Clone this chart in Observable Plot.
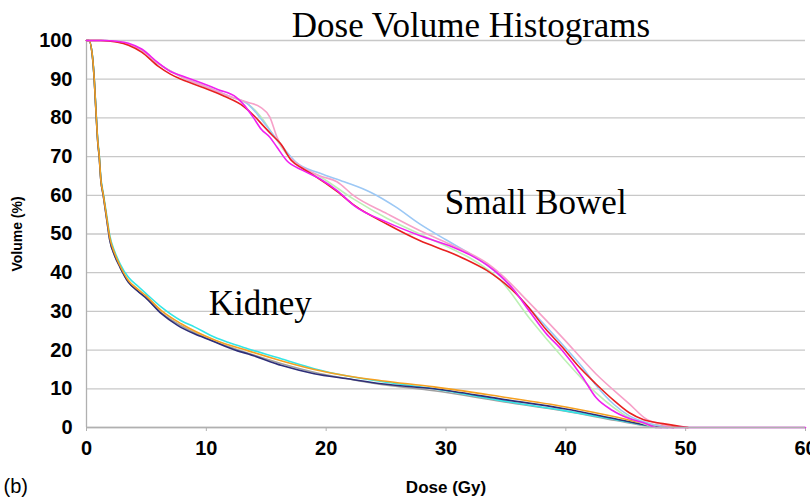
<!DOCTYPE html>
<html>
<head>
<meta charset="utf-8">
<script src="https://cdn.jsdelivr.net/npm/d3@7"></script>
<script src="https://cdn.jsdelivr.net/npm/@observablehq/plot@0.6"></script>
<style>
  html, body { margin: 0; padding: 0; background: #fff; overflow: hidden; }
  #chart svg { display: block; }
</style>
</head>
<body>
<div id="chart"></div>
<script>
// ---- Data: [dose (Gy), volume (%)] ----
const bowelGreen = [[0,100],[1.5,100],[3,99.4],[4.6,97.5],[6,94],[8,90.5],[10,88],[12,85.5],[13.5,83.5],[14.5,80.5],[15.5,76],[16.5,71.5],[17.5,68],[19.5,64.8],[22.3,59],[25.1,54],[27.8,50],[30.6,46],[32,43.8],[33.4,41],[34.5,38.2],[36.9,28.5],[39.7,18.2],[42.5,9],[45.3,2.5],[46.5,1],[47.5,0]];
const bowelBlue = [[0,100],[1.5,100],[3,99.4],[4.6,97.5],[6,94],[8,90.5],[10,88],[12,85.5],[13.5,83.5],[14.5,80],[15.5,76],[16.5,72],[17.5,68.5],[19.5,65.7],[21.5,63.5],[23.7,60.8],[25.8,57],[27.8,52.6],[30,48.5],[32,44.9],[33.5,41.8],[34.8,38.3],[36.9,31],[39.7,21.5],[41.4,15.5],[42.5,11],[44,6],[45.3,3],[47,1],[48.5,0]];
const bowelPink = [[0,100],[1.5,100],[3,99.4],[4.6,97.5],[6,94],[8,90.5],[10,88],[12,85.5],[13.5,84],[14.5,82.8],[15.3,80.2],[15.9,75],[16.7,70.7],[17.6,68.1],[19.5,65],[20.9,63.5],[22.3,59.9],[25.1,55.2],[27.8,50.9],[30.6,47],[32,45],[33.4,42.5],[34.5,39.8],[36.9,32.4],[39.7,23.3],[42.5,13.9],[45.3,6.1],[46.7,2.2],[48,0.8],[49,0]];
const bowelRed = [[0,100],[1.2,100],[2.5,99.6],[3.5,98.8],[4.6,97],[6,93.3],[7,91.3],[7.9,90],[9.6,88],[11.5,85.6],[13.1,83],[14,80.5],[14.8,77.8],[15.5,75.5],[16.2,73.3],[17.1,69],[18,67],[19,65.1],[20.9,61],[22.3,57.5],[25.1,52.5],[27.8,48.3],[30.6,44.9],[32,42.9],[33.4,40.6],[34.5,38.2],[35.5,35.6],[36.9,31],[38.3,25.5],[39.7,20.8],[41,16],[42.5,11.3],[44,7],[45.3,3.8],[46.5,2],[48.1,1],[49.5,0.3],[50.2,0]];
const bowelMagenta = [[0,100],[1.5,100],[2.5,99.8],[3.5,99.3],[4.6,97.8],[6,94.2],[7,92],[8,90.8],[9.6,89],[11,87.3],[12.5,85.3],[13.1,83.5],[13.9,80.2],[14.6,77],[15.3,75],[15.9,72.4],[16.7,69],[18,66.5],[19.5,64.2],[21,61],[22.3,57.4],[25.1,53],[27.8,49.6],[30.6,46.6],[32,44.6],[33.4,42],[34.5,39.3],[35.6,35.8],[36.9,30.3],[38.3,24.5],[39.7,19.9],[41.4,13],[42.5,7.8],[43.9,4.4],[45.3,2.3],[46.7,1],[47.5,0],[60,0]];

const kidneyGray = [[0,100],[0.2,100],[0.5,95.6],[0.65,89.6],[0.8,81],[0.95,73.3],[1.05,70.3],[1.2,63.8],[1.4,59.9],[1.7,53.5],[1.95,48.3],[2.35,44.4],[2.8,41.4],[3.5,37.6],[4.3,35.2],[4.9,33.6],[6.25,29.6],[7.9,26.3],[10.7,22.2],[13.5,19.2],[16.3,16.5],[19,14.3],[21.8,12.6],[24.6,11.1],[29,9.5],[34.5,6.8],[40,4.2],[44.2,1.8],[47,0.3],[48,0]];
const kidneyCyan = [[0,100],[0.2,100],[0.5,96],[0.65,90],[0.8,81.5],[0.95,74],[1.05,71],[1.2,64.5],[1.4,60.5],[1.7,54.5],[1.95,49.5],[2.35,45.5],[2.8,42.3],[3.5,38.8],[4.3,36.5],[4.9,34.8],[6.25,31.1],[7.9,27.6],[9,26],[10.7,23.3],[11.8,22],[13.5,20.3],[16.3,17.7],[19,15.2],[21.8,13.3],[24.6,11.9],[29,10],[34.5,7],[40,4.3],[44.2,2],[47,0.4],[48.5,0]];
const kidneyNavy = [[0,100],[0.2,100],[0.5,95.7],[0.65,89.7],[0.8,81],[0.95,73.3],[1.05,70.3],[1.2,63.8],[1.4,59.9],[1.7,53.5],[1.95,48.3],[2.35,44.4],[2.8,41.4],[3.5,37.5],[4.3,35.2],[4.9,33.7],[6.25,29.4],[7.6,26.4],[9,24.2],[10.4,22.5],[12.6,19.8],[13.5,19],[16.3,16],[19,13.9],[21.8,12.6],[24.6,11.3],[29,10],[34.5,7.4],[40,4.8],[44.2,2.2],[47,0.5],[49,0]];
const kidneyOrange = [[0,100],[0.2,100],[0.5,95.8],[0.65,89.8],[0.8,81.2],[0.95,73.6],[1.05,70.6],[1.2,64],[1.4,60.2],[1.7,54],[1.95,49],[2.35,45],[2.8,41.8],[3.5,38],[4.3,35.7],[4.9,34.2],[6.25,30.2],[7.9,26.8],[10.7,22.6],[13.5,19.8],[16.3,17.2],[19,15],[21.8,13.3],[24.6,12.1],[29,10.5],[34.5,8],[40,5.3],[44.2,2.7],[47,0.8],[49,0.2],[50.2,0]];

const series = [
  {data: kidneyGray, color: "#a0a0a0"},
  {data: kidneyCyan, color: "#33e6e6"},
  {data: kidneyNavy, color: "#2e2e78"},
  {data: kidneyOrange, color: "#f5a020"},
  {data: bowelGreen, color: "#bdf0b5"},
  {data: bowelBlue, color: "#9cc8f5"},
  {data: bowelPink, color: "#f7a0c8"},
  {data: bowelRed, color: "#e82020"},
  {data: bowelMagenta, color: "#f020f0"}
];

const xTicks = [0, 10, 20, 30, 40, 50, 60];
const yTicks = [0, 10, 20, 30, 40, 50, 60, 70, 80, 90, 100];

const sans = "'Liberation Sans', Arial, sans-serif";
const serif = "'Liberation Serif', 'Times New Roman', serif";

const chart = Plot.plot({
  width: 810,
  height: 500,
  marginTop: 40,
  marginBottom: 73,
  marginLeft: 86,
  marginRight: 5,
  x: {domain: [0, 60]},
  y: {domain: [0, 100]},
  style: {fontFamily: sans, background: "#fff"},
  marks: [
    Plot.gridY(yTicks, {stroke: "#c8c8c8", strokeOpacity: 1, strokeWidth: 1.3}),
    Plot.ruleX([0], {stroke: "#b0b0b0", strokeWidth: 1.3}),
    Plot.axisY(yTicks, {tickSize: 0, tickPadding: 14, fontSize: 20, fontWeight: "bold", fill: "#000", label: null, fontFamily: sans}),
    Plot.axisX(xTicks, {tickSize: 4, stroke: "#b0b0b0", tickPadding: 9, fontSize: 20, fontWeight: "bold", fill: "#000", label: null, fontFamily: sans}),
    ...series.map(s => Plot.line(s.data, {x: d => d[0], y: d => d[1], stroke: s.color, strokeWidth: 1.6, curve: "monotone-x"})),
    Plot.ruleY([0], {stroke: "#b0b0b0", strokeWidth: 1.3}),
    Plot.text(["Dose Volume Histograms"], {frameAnchor: "top", dx: 25, dy: -15, fontSize: 35, fontFamily: serif, fill: "#000", lineAnchor: "middle"}),
    Plot.text(["Small Bowel"], {x: 29.9, y: 58, textAnchor: "start", fontSize: 35, fontFamily: serif, fill: "#000"}),
    Plot.text(["Kidney"], {x: 10.2, y: 32, textAnchor: "start", fontSize: 35, fontFamily: serif, fill: "#000"}),
    Plot.text(["Volume (%)"], {x: 0, y: 50, dx: -69, rotate: -90, fontSize: 14, fontWeight: "bold", fill: "#000", fontFamily: sans}),
    Plot.text(["Dose (Gy)"], {x: 30, y: 0, dy: 60, fontSize: 17, fontWeight: "bold", fill: "#000", fontFamily: sans}),
    Plot.text(["(b)"], {x: 0, y: 0, dx: -83, dy: 59, textAnchor: "start", fontSize: 20, fill: "#000", fontFamily: sans})
  ]
});
document.getElementById("chart").appendChild(chart);
</script>
</body>
</html>
